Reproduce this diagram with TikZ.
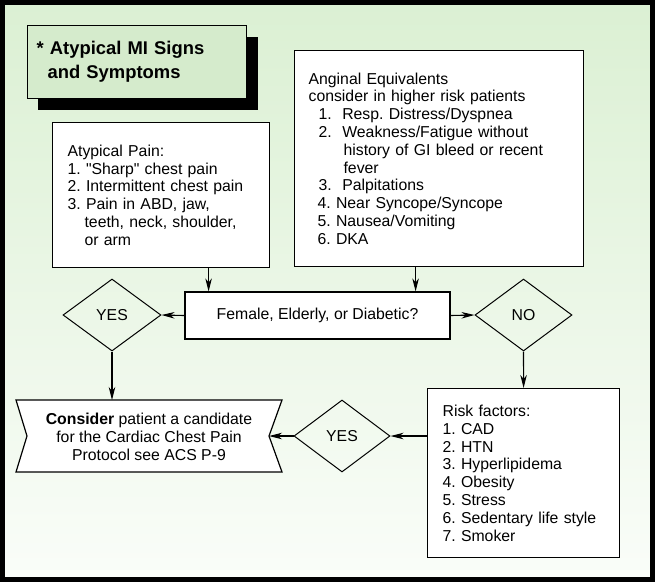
\documentclass[tikz,border=0pt]{standalone}
\usepackage{fontspec}
\setmainfont{Liberation Sans}
\usetikzlibrary{shapes.geometric,arrows.meta,calc}
\definecolor{bgtop}{RGB}{219,240,211}
\definecolor{bgbot}{RGB}{250,253,249}
\definecolor{titlefill}{RGB}{213,235,204}
\frenchspacing
\begin{document}
\begin{tikzpicture}[x=1pt,y=-1pt,
  txt/.style={font=\fontsize{15.8}{17.8}\selectfont},
  box/.style={txt, draw=black, line width=1.2pt, fill=white, anchor=north west,
    inner ysep=0pt, align=left},
  dia/.style={txt, diamond, draw=black, line width=1pt, inner sep=0pt, aspect=1.36},
  arr/.style={line width=1.1pt, -{Stealth[length=13pt,width=6.5pt,inset=4pt]}}
]
\useasboundingbox (0,0) rectangle (655,582);
% background
\shade[top color=bgtop, bottom color=bgbot] (2,2) rectangle (653,580);
\draw[line width=4.5pt] (2.5,2.5) rectangle (652.5,579.5);

% title with shadow
\fill[black] (38,37) rectangle (258,110);
\node[draw=black, line width=1.2pt, fill=titlefill, anchor=north west,
  minimum width=219pt, minimum height=73pt, inner xsep=9pt, inner ysep=0pt,
  text width=201pt, align=left,
  font=\fontsize{18.4}{24}\selectfont\bfseries] (title) at (27,25)
  {* Atypical MI Signs\\\hspace*{11pt}and Symptoms};

% atypical pain
\node[box, minimum width=217pt, minimum height=145pt, inner xsep=15pt, text width=187pt]
  (atyp) at (52,122)
  {Atypical Pain:\\
   1. \textquotedbl Sharp\textquotedbl\ chest pain\\
   2. Intermittent chest pain\\
   3. Pain in ABD, jaw,\\
   \hspace*{17pt}teeth, neck, shoulder,\\
   \hspace*{17pt}or arm};

% anginal equivalents
\node[box, minimum width=289pt, minimum height=216pt, inner xsep=14pt, text width=261pt]
  (ang) at (294,50)
  {Anginal Equivalents\\
   consider in higher risk patients\\
   \hspace*{10pt}1.\ \ Resp. Distress/Dyspnea\\
   \hspace*{10pt}2.\ \ Weakness/Fatigue without\\
   \hspace*{35pt}history of GI bleed or recent\\
   \hspace*{35pt}fever\\
   \hspace*{10pt}3.\ \ Palpitations\\
   \hspace*{9pt}4. Near Syncope/Syncope\\
   \hspace*{9pt}5. Nausea/Vomiting\\
   \hspace*{9pt}6. DKA};

% question
\node[txt, draw=black, line width=1.2pt, fill=white, minimum width=265pt,
  minimum height=47pt, inner sep=0pt] (fem) at (317.5,315.5)
  {Female, Elderly, or Diabetic?};

% diamonds
\node[dia, minimum width=98pt, minimum height=72pt] (yes1) at (112,315) {YES};
\node[dia, minimum width=97pt, minimum height=72pt] (no) at (523.5,315) {NO};
\node[dia, minimum width=96pt, minimum height=72pt] (yes2) at (342,436) {YES};

% risk factors
\node[box, minimum width=192pt, minimum height=169pt, inner xsep=15pt, text width=162pt]
  (risk) at (427,388)
  {Risk factors:\\
   1. CAD\\
   2. HTN\\
   3. Hyperlipidema\\
   4. Obesity\\
   5. Stress\\
   6. Sedentary life style\\
   7. Smoker};

% consider shape
\coordinate (cnw) at (16,400);
\coordinate (cne) at (282,400);
\coordinate (cse) at (282,472);
\coordinate (csw) at (16,472);
\coordinate (cnotchR) at (269,436);
\coordinate (cnotchL) at (27,436);
\coordinate (ctop) at (149,400);
\filldraw[fill=white, draw=black, line width=1.2pt, line join=miter]
  (cnw) -- (cne) -- (cnotchR) -- (cse) -- (csw) -- (cnotchL) -- cycle;
\node[txt, align=center, font=\fontsize{15.8}{18}\selectfont] (cons) at (149,437)
  {\textbf{Consider} patient a candidate\\for the Cardiac Chest Pain\\Protocol see ACS P-9};

% connectors
\path ([xshift=47.5pt]atyp.south) coordinate (a1);
\draw[arr] (a1) -- (a1 |- fem.north);
\path ([xshift=-23.5pt]ang.south) coordinate (a2);
\draw[arr] (a2) -- (a2 |- fem.north);
\draw[arr] (fem.west) -- (yes1.east);
\draw[arr] (fem.east) -- (no.west);
\draw[arr] (yes1.south) -- (yes1.south |- ctop);
\draw[arr] (no.south) -- (risk.north);
\draw[arr] (risk.west |- yes2.east) -- (yes2.east);
\draw[arr] (yes2.west) -- (cnotchR);
\end{tikzpicture}
\end{document}
